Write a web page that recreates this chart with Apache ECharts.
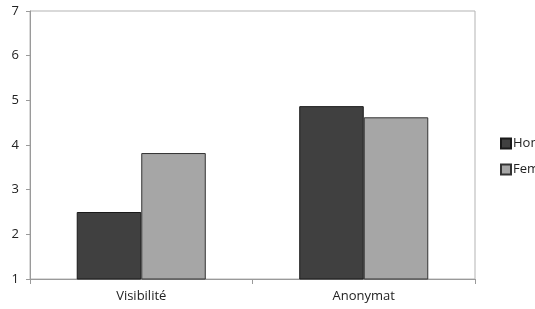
<!DOCTYPE html>
<html lang="fr">
<head>
<meta charset="utf-8">
<title>Visibilité / Anonymat</title>
<script src="https://cdn.jsdelivr.net/npm/echarts@6/dist/echarts.min.js"></script>
<style>
  html, body { margin: 0; padding: 0; background: #fff; }
  #chart { width: 535px; height: 309px; }
</style>
</head>
<body>
<div id="chart"></div>
<script>
// données
var categories = ['Visibilité', 'Anonymat'];
var seriesNames = ['Homme', 'Femme'];
var homme = [2.5, 4.87];
var femme = [3.82, 4.62];

var chart = echarts.init(document.getElementById('chart'));
var font = 'Open Sans, DejaVu Sans, sans-serif';

var option = {
  animation: false,
  textStyle: { fontFamily: font },
  grid: {
    left: 30, right: 60, top: 11, bottom: 30,
    show: true, borderColor: '#b3b3b3', borderWidth: 1
  },
  legend: {
    orient: 'vertical',
    left: 495, top: 132,
    icon: 'rect',
    itemWidth: 10, itemHeight: 10, itemGap: 13,
    textStyle: { fontSize: 13, color: '#222', padding: [0, 0, 0, -3] },
    data: seriesNames
  },
  xAxis: {
    type: 'category',
    data: categories,
    axisLine: { lineStyle: { color: '#9a9a9a' } },
    axisTick: { show: true, length: 5, lineStyle: { color: '#9a9a9a' } },
    axisLabel: { color: '#222', fontSize: 13, margin: 11 }
  },
  yAxis: {
    type: 'value',
    min: 1, max: 7, interval: 1,
    splitLine: { show: false },
    axisLine: { show: true, lineStyle: { color: '#9a9a9a' } },
    axisTick: { show: true, length: 4, lineStyle: { color: '#9a9a9a' } },
    axisLabel: { color: '#222', fontSize: 13, margin: 11 }
  },
  series: [
    {
      name: seriesNames[0], type: 'bar', data: homme,
      barGap: '0%', barCategoryGap: '42%',
      itemStyle: { color: '#404040', borderColor: '#1a1a1a', borderWidth: 1 }
    },
    {
      name: seriesNames[1], type: 'bar', data: femme,
      barGap: '0%', barCategoryGap: '42%',
      itemStyle: { color: '#a6a6a6', borderColor: '#333', borderWidth: 1 }
    }
  ]
};

chart.setOption(option);
</script>
</body>
</html>
